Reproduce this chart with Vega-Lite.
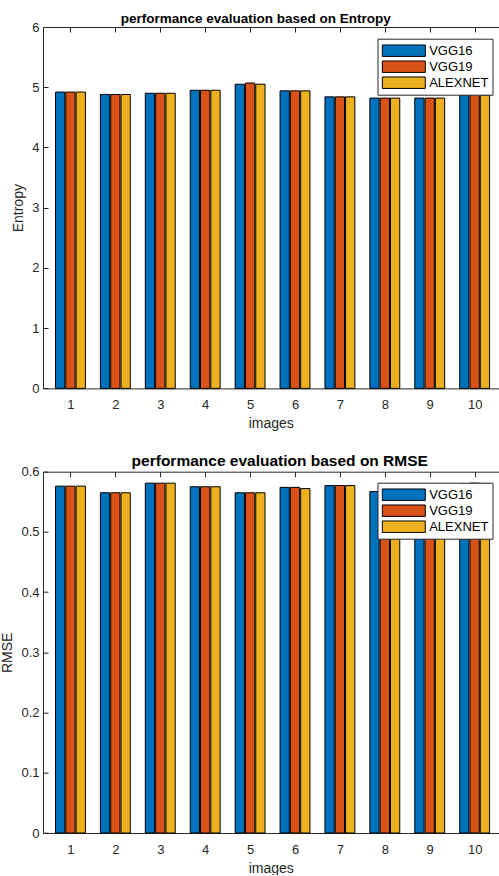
{
  "$schema": "https://vega.github.io/schema/vega-lite/v6.json",
  "padding": {"left": 0, "top": 11, "right": 0, "bottom": 0},
  "spacing": 22.7,
  "config": {
    "font": "Liberation Sans",
    "view": {"stroke": null},
    "axis": {
      "domainColor": "#262626", "tickColor": "#262626", "labelColor": "#262626", "titleColor": "#262626",
      "labelFont": "Liberation Sans", "titleFont": "Liberation Sans",
      "labelFontSize": 13, "titleFontSize": 14, "titleFontWeight": "normal",
      "grid": false, "tickSize": -5, "domainWidth": 1, "tickWidth": 1
    },
    "title": {"fontSize": 13.5, "fontWeight": "bold", "color": "#000000", "font": "Liberation Sans"},
    "bar": {"width": 9.3, "stroke": "#000000", "strokeWidth": 1},
    "legend": {
      "orient": "none", "title": null, "fillColor": "#ffffff", "strokeColor": "#262626",
      "padding": 4, "rowPadding": -0.7,
      "symbolType": "M-1,-0.8H5V0.8H-1Z", "symbolSize": 205,
      "symbolStrokeColor": "#000000", "symbolStrokeWidth": 1, "symbolOpacity": 1,
      "labelFont": "Liberation Sans", "labelFontSize": 13, "labelColor": "#000000", "labelOffset": 31.7
    }
  },
  "datasets": {
    "d": [
      {"img": 1, "model": "VGG16", "entropy": 4.92, "rmse": 0.576},
      {"img": 1, "model": "VGG19", "entropy": 4.92, "rmse": 0.576},
      {"img": 1, "model": "ALEXNET", "entropy": 4.92, "rmse": 0.576},
      {"img": 2, "model": "VGG16", "entropy": 4.88, "rmse": 0.565},
      {"img": 2, "model": "VGG19", "entropy": 4.88, "rmse": 0.565},
      {"img": 2, "model": "ALEXNET", "entropy": 4.88, "rmse": 0.565},
      {"img": 3, "model": "VGG16", "entropy": 4.90, "rmse": 0.581},
      {"img": 3, "model": "VGG19", "entropy": 4.90, "rmse": 0.581},
      {"img": 3, "model": "ALEXNET", "entropy": 4.90, "rmse": 0.581},
      {"img": 4, "model": "VGG16", "entropy": 4.95, "rmse": 0.575},
      {"img": 4, "model": "VGG19", "entropy": 4.95, "rmse": 0.575},
      {"img": 4, "model": "ALEXNET", "entropy": 4.95, "rmse": 0.575},
      {"img": 5, "model": "VGG16", "entropy": 5.05, "rmse": 0.565},
      {"img": 5, "model": "VGG19", "entropy": 5.07, "rmse": 0.565},
      {"img": 5, "model": "ALEXNET", "entropy": 5.05, "rmse": 0.565},
      {"img": 6, "model": "VGG16", "entropy": 4.94, "rmse": 0.574},
      {"img": 6, "model": "VGG19", "entropy": 4.94, "rmse": 0.574},
      {"img": 6, "model": "ALEXNET", "entropy": 4.94, "rmse": 0.572},
      {"img": 7, "model": "VGG16", "entropy": 4.84, "rmse": 0.577},
      {"img": 7, "model": "VGG19", "entropy": 4.84, "rmse": 0.577},
      {"img": 7, "model": "ALEXNET", "entropy": 4.84, "rmse": 0.577},
      {"img": 8, "model": "VGG16", "entropy": 4.82, "rmse": 0.567},
      {"img": 8, "model": "VGG19", "entropy": 4.82, "rmse": 0.567},
      {"img": 8, "model": "ALEXNET", "entropy": 4.82, "rmse": 0.567},
      {"img": 9, "model": "VGG16", "entropy": 4.82, "rmse": 0.567},
      {"img": 9, "model": "VGG19", "entropy": 4.82, "rmse": 0.567},
      {"img": 9, "model": "ALEXNET", "entropy": 4.82, "rmse": 0.567},
      {"img": 10, "model": "VGG16", "entropy": 4.87, "rmse": 0.580},
      {"img": 10, "model": "VGG19", "entropy": 4.89, "rmse": 0.581},
      {"img": 10, "model": "ALEXNET", "entropy": 4.87, "rmse": 0.580}
    ]
  },
  "vconcat": [
    {
      "width": 455.5, "height": 361.4,
      "title": {"text": "performance evaluation based on Entropy", "dx": -15, "offset": -4},
      "data": {"name": "d"},
      "layer": [
        {
          "encoding": {
            "x": {"field": "img", "type": "quantitative",
              "scale": {"domain": [0.5, 10.42], "nice": false, "zero": false},
              "axis": {"values": [1,2,3,4,5,6,7,8,9,10], "format": "d", "title": "images", "labelPadding": 15, "titlePadding": 5}},
            "y": {"field": "entropy", "type": "quantitative", "stack": null,
              "scale": {"domain": [0, 6], "nice": false},
              "axis": {"values": [0,1,2,3,4,5,6], "title": "Entropy", "labelPadding": 9, "titlePadding": 6}},
            "color": {"field": "model", "type": "nominal",
              "scale": {"domain": ["VGG16", "VGG19", "ALEXNET"], "range": ["#0072BD", "#D95319", "#EDB120"]},
              "legend": {"legendX": 334.5, "legendY": 11.7}}
          },
          "layer": [
            {"transform": [{"filter": "datum.model === 'VGG16'"}], "mark": {"type": "bar", "xOffset": -10.3}},
            {"transform": [{"filter": "datum.model === 'VGG19'"}], "mark": {"type": "bar", "xOffset": 0}},
            {"transform": [{"filter": "datum.model === 'ALEXNET'"}], "mark": {"type": "bar", "xOffset": 10.3}}
          ]
        },
        {
          "mark": {"type": "tick", "opacity": 0},
          "encoding": {
            "x": {"field": "img", "type": "quantitative",
              "axis": {"orient": "top", "labels": false, "title": null, "values": [1,2,3,4,5,6,7,8,9,10]}},
            "y": {"value": 0}
          }
        }
      ],
      "resolve": {"axis": {"x": "independent"}}
    },
    {
      "width": 455.5, "height": 361.3,
      "title": {"text": "performance evaluation based on RMSE", "dx": 9, "offset": -4, "fontSize": 15.5},
      "data": {"name": "d"},
      "layer": [
        {
          "encoding": {
            "x": {"field": "img", "type": "quantitative",
              "scale": {"domain": [0.5, 10.42], "nice": false, "zero": false},
              "axis": {"values": [1,2,3,4,5,6,7,8,9,10], "format": "d", "title": "images", "labelPadding": 15, "titlePadding": 5}},
            "y": {"field": "rmse", "type": "quantitative", "stack": null,
              "scale": {"domain": [0, 0.6], "nice": false},
              "axis": {"values": [0,0.1,0.2,0.3,0.4,0.5,0.6], "format": ".1~f", "title": "RMSE", "labelPadding": 9, "titlePadding": 6}},
            "color": {"field": "model", "type": "nominal",
              "scale": {"domain": ["VGG16", "VGG19", "ALEXNET"], "range": ["#0072BD", "#D95319", "#EDB120"]},
              "legend": {"legendX": 334.5, "legendY": 11}}
          },
          "layer": [
            {"transform": [{"filter": "datum.model === 'VGG16'"}], "mark": {"type": "bar", "xOffset": -10.3}},
            {"transform": [{"filter": "datum.model === 'VGG19'"}], "mark": {"type": "bar", "xOffset": 0}},
            {"transform": [{"filter": "datum.model === 'ALEXNET'"}], "mark": {"type": "bar", "xOffset": 10.3}}
          ]
        },
        {
          "mark": {"type": "tick", "opacity": 0},
          "encoding": {
            "x": {"field": "img", "type": "quantitative",
              "axis": {"orient": "top", "labels": false, "title": null, "values": [1,2,3,4,5,6,7,8,9,10]}},
            "y": {"value": 0}
          }
        }
      ],
      "resolve": {"axis": {"x": "independent"}}
    }
  ],
  "resolve": {"legend": {"color": "independent"}}
}
